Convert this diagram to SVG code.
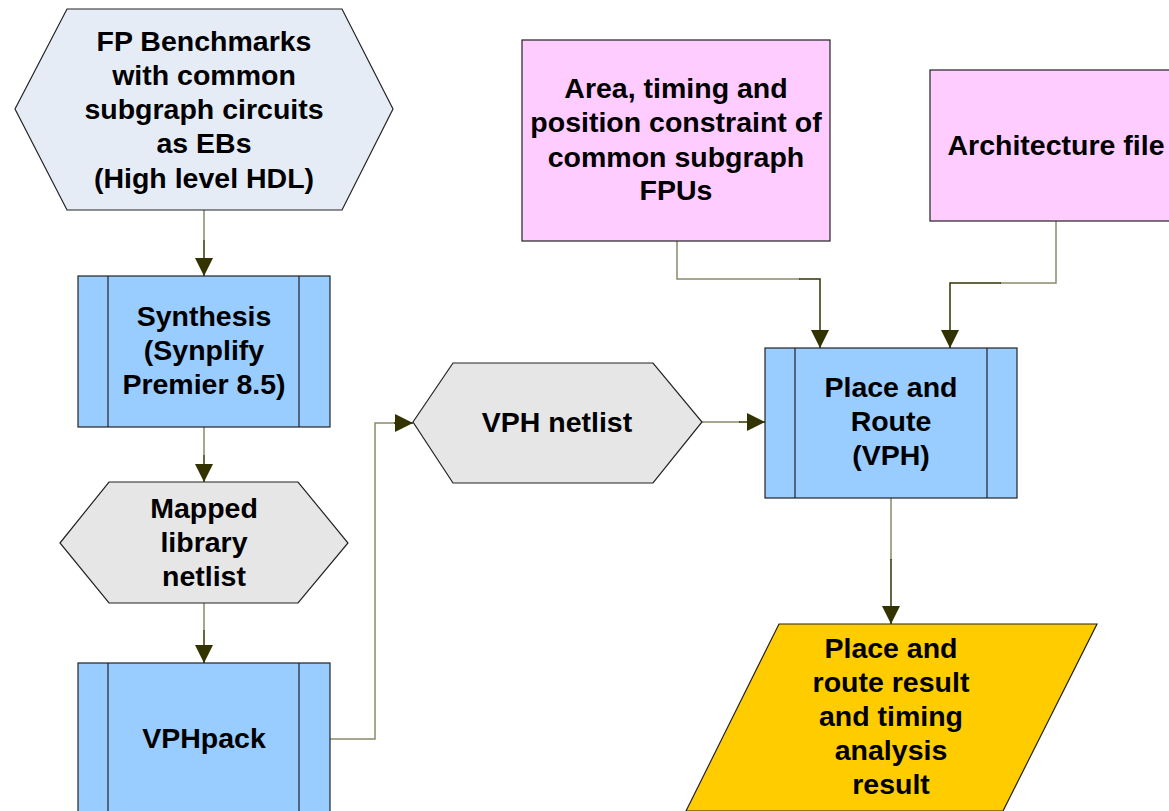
<svg xmlns="http://www.w3.org/2000/svg" width="1169" height="811" viewBox="0 0 1169 811">
<style>
.t{font-family:"Liberation Sans",Arial,sans-serif;font-weight:bold;font-size:28.5px;fill:#000;text-anchor:middle}
.s{stroke:#222;stroke-width:1.2}
.c1{fill:none;stroke:#8a8a6a;stroke-width:1.5}
.c2{fill:none;stroke:#333300;stroke-width:1.5}
</style>
<defs>
<marker id="ah" markerWidth="18" markerHeight="18" refX="18" refY="9" orient="auto" markerUnits="userSpaceOnUse">
<path d="M0,0 L18,9 L0,18 Z" fill="#333300"/>
</marker>
</defs>
<rect width="1169" height="811" fill="#fff"/>
<g id="connectors">
<path class="c1" d="M204,210 V240"/><path class="c2" d="M204,240 V276" marker-end="url(#ah)"/>
<path class="c1" d="M204,427 V455"/><path class="c2" d="M204,455 V482" marker-end="url(#ah)"/>
<path class="c1" d="M204,603 V630"/><path class="c2" d="M204,630 V663" marker-end="url(#ah)"/>
<path class="c1" d="M330,739 H375 V423 H395"/><path class="c2" d="M394,423 H413" marker-end="url(#ah)"/>
<path class="c1" d="M702,422 H740"/><path class="c2" d="M739,422 H765" marker-end="url(#ah)"/>
<path class="c1" d="M677,241 V279 H800"/><path class="c2" d="M799,279 H820 V348" marker-end="url(#ah)"/>
<path class="c1" d="M1056,221 V283 H1000"/><path class="c2" d="M1001,283 H950 V348" marker-end="url(#ah)"/>
<path class="c1" d="M891,498 V560"/><path class="c2" d="M891,559 V624" marker-end="url(#ah)"/>
</g>
<g id="fp-benchmarks">
<polygon class="s" points="15,109 67,9 342,9 393,109 342,210 67,210" fill="#e6ecf6"/>
<text class="t" x="204" y="51">FP Benchmarks</text>
<text class="t" x="204" y="85">with common</text>
<text class="t" x="204" y="119">subgraph circuits</text>
<text class="t" x="204" y="153">as EBs</text>
<text class="t" x="204" y="188">(High level HDL)</text>
</g>
<g id="synthesis">
<rect class="s" x="78" y="276" width="252" height="151" fill="#99ccff"/>
<line class="s" x1="108" y1="276" x2="108" y2="427"/><line class="s" x1="299" y1="276" x2="299" y2="427"/>
<text class="t" x="204" y="326">Synthesis</text>
<text class="t" x="204" y="360">(Synplify</text>
<text class="t" x="204" y="394">Premier 8.5)</text>
</g>
<g id="mapped-netlist">
<polygon class="s" points="60,543 109,482 298,482 348,543 298,603 109,603" fill="#e6e6e6"/>
<text class="t" x="204" y="518">Mapped</text>
<text class="t" x="204" y="552">library</text>
<text class="t" x="204" y="586">netlist</text>
</g>
<g id="vphpack">
<rect class="s" x="78" y="663" width="252" height="160" fill="#99ccff"/>
<line class="s" x1="108" y1="663" x2="108" y2="823"/><line class="s" x1="299" y1="663" x2="299" y2="823"/>
<text class="t" x="204" y="748">VPHpack</text>
</g>
<g id="vph-netlist">
<polygon class="s" points="413,422 453,363 653,363 702,422 653,483 453,483" fill="#e6e6e6"/>
<text class="t" x="557" y="432">VPH netlist</text>
</g>
<g id="constraints">
<rect class="s" x="522" y="40" width="308" height="201" fill="#ffccff"/>
<text class="t" x="676" y="98">Area, timing and</text>
<text class="t" x="676" y="132">position constraint of</text>
<text class="t" x="676" y="167">common subgraph</text>
<text class="t" x="676" y="200">FPUs</text>
</g>
<g id="architecture">
<rect class="s" x="930" y="70" width="252" height="151" fill="#ffccff"/>
<text class="t" x="1056" y="155">Architecture file</text>
</g>
<g id="place-route">
<rect class="s" x="765" y="348" width="252" height="150" fill="#99ccff"/>
<line class="s" x1="795" y1="348" x2="795" y2="498"/><line class="s" x1="987" y1="348" x2="987" y2="498"/>
<text class="t" x="891" y="397">Place and</text>
<text class="t" x="891" y="431">Route</text>
<text class="t" x="891" y="465">(VPH)</text>
</g>
<g id="result">
<polygon class="s" points="779,624 1097,624 1003,811 686,811" fill="#ffcc00"/>
<text class="t" x="891" y="658">Place and</text>
<text class="t" x="891" y="692">route result</text>
<text class="t" x="891" y="726">and timing</text>
<text class="t" x="891" y="760">analysis</text>
<text class="t" x="891" y="794">result</text>
</g>
</svg>
